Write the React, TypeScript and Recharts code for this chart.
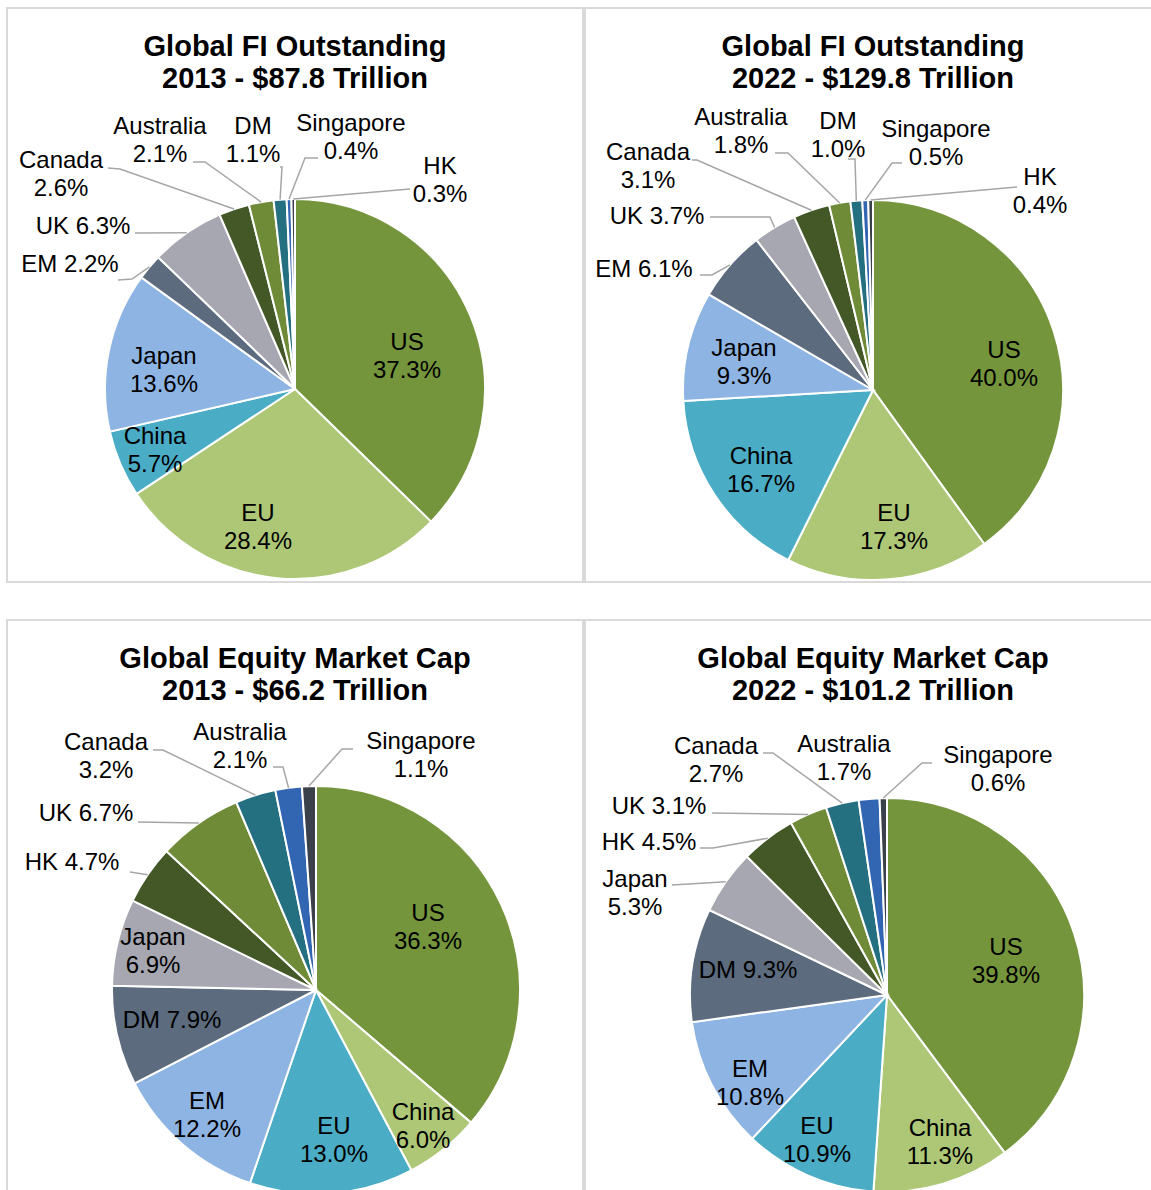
import { PieChart, Pie, Cell } from 'recharts';

// slice colours, clockwise from 12 o'clock (same order in all four pies)
const PALETTE = ['#75953D', '#ADC776', '#4BACC6', '#8EB4E3', '#5C6B7D', '#A6A7B0', '#435826', '#6F8B38', '#246F80', '#3366B2', '#3A414A'];

const fi2013Names = ['US', 'EU', 'China', 'Japan', 'EM', 'UK', 'Canada', 'Australia', 'DM', 'Singapore', 'HK'];
const fi2013Values = [37.3, 28.4, 5.7, 13.6, 2.2, 6.3, 2.6, 2.1, 1.1, 0.4, 0.3];

const fi2022Names = ['US', 'EU', 'China', 'Japan', 'EM', 'UK', 'Canada', 'Australia', 'DM', 'Singapore', 'HK'];
const fi2022Values = [40.0, 17.3, 16.7, 9.3, 6.1, 3.7, 3.1, 1.8, 1.0, 0.5, 0.4];

const eq2013Names = ['US', 'China', 'EU', 'EM', 'DM', 'Japan', 'HK', 'UK', 'Canada', 'Australia', 'Singapore'];
const eq2013Values = [36.3, 6.0, 13.0, 12.2, 7.9, 6.9, 4.7, 6.7, 3.2, 2.1, 1.1];

const eq2022Names = ['US', 'China', 'EU', 'EM', 'DM', 'Japan', 'HK', 'UK', 'Canada', 'Australia', 'Singapore'];
const eq2022Values = [39.8, 11.3, 10.9, 10.8, 9.3, 5.3, 4.5, 3.1, 2.7, 1.7, 0.6];

// label placement relative to the pie centre; lead = [startX, startY, elbowX, elbowY]
type Spot = { x: number; y: number; lines: 1 | 2; lead?: number[] };

const fi2013Spots: Spot[] = [
  { x: 112, y: -33, lines: 2 },
  { x: -37, y: 138, lines: 2 },
  { x: -140, y: 61, lines: 2 },
  { x: -131, y: -19, lines: 2 },
  { x: -225, y: -125, lines: 1, lead: [-177, -109, -163, -110] },
  { x: -212, y: -163, lines: 1, lead: [-160, -156, -160, -156] },
  { x: -234, y: -215, lines: 2, lead: [-187, -221, -175, -220] },
  { x: -135, y: -249, lines: 2, lead: [-102, -227, -90, -227] },
  { x: -42, y: -249, lines: 2, lead: [-15, -222, -13, -222] },
  { x: 56, y: -252, lines: 2, lead: [23, -231, 10, -231] },
  { x: 145, y: -209, lines: 2, lead: [115, -200, 115, -200] },
];

const fi2022Spots: Spot[] = [
  { x: 131, y: -26, lines: 2 },
  { x: 21, y: 137, lines: 2 },
  { x: -112, y: 80, lines: 2 },
  { x: -129, y: -28, lines: 2 },
  { x: -229, y: -121, lines: 1, lead: [-173, -115, -161, -115] },
  { x: -216, y: -174, lines: 1, lead: [-163, -173, -103, -173] },
  { x: -225, y: -224, lines: 2, lead: [-181, -230, -176, -230] },
  { x: -132, y: -259, lines: 2, lead: [-98, -237, -85, -237] },
  { x: -35, y: -255, lines: 2, lead: [-25, -231, -18, -231] },
  { x: 63, y: -247, lines: 2, lead: [29, -227, 19, -227] },
  { x: 167, y: -199, lines: 2, lead: [144, -203, 144, -203] },
];

const eq2013Spots: Spot[] = [
  { x: 112, y: -63, lines: 2 },
  { x: 107, y: 136, lines: 2 },
  { x: 18, y: 150, lines: 2 },
  { x: -109, y: 125, lines: 2 },
  { x: -144, y: 30, lines: 1 },
  { x: -163, y: -39, lines: 2 },
  { x: -244, y: -128, lines: 1, lead: [-186, -118, -186, -118] },
  { x: -230, y: -177, lines: 1, lead: [-178, -168, -178, -168] },
  { x: -210, y: -234, lines: 2, lead: [-163, -240, -153, -240] },
  { x: -76, y: -244, lines: 2, lead: [-43, -223, -33, -223] },
  { x: 105, y: -235, lines: 2, lead: [37, -241, 26, -241] },
];

const eq2022Spots: Spot[] = [
  { x: 119, y: -34, lines: 2 },
  { x: 53, y: 147, lines: 2 },
  { x: -70, y: 145, lines: 2 },
  { x: -137, y: 88, lines: 2 },
  { x: -139, y: -25, lines: 1 },
  { x: -252, y: -102, lines: 2, lead: [-215, -110, -215, -110] },
  { x: -238, y: -153, lines: 1, lead: [-187, -147, -174, -147] },
  { x: -228, y: -189, lines: 1, lead: [-175, -182, -175, -182] },
  { x: -171, y: -235, lines: 2, lead: [-124, -242, -114, -242] },
  { x: -43, y: -237, lines: 2 },
  { x: 111, y: -226, lines: 2, lead: [45, -232, 35, -232] },
];

const FONT = '"Liberation Sans", Arial, sans-serif';
const RAD = Math.PI / 180;

function makeLabel(names: string[], values: number[], spots: Spot[]) {
  return (props: any) => {
    const { cx, cy, midAngle, outerRadius, index } = props;
    const s = spots[index];
    if (!s) return null;
    const name = names[index];
    const pct = values[index].toFixed(1) + '%';
    const lx = cx + s.x;
    const ly = cy + s.y;
    let leader = null;
    if (s.lead) {
      const endX = cx + outerRadius * Math.cos(-midAngle * RAD);
      const endY = cy + outerRadius * Math.sin(-midAngle * RAD);
      const pts = `${cx + s.lead[0]},${cy + s.lead[1]} ${cx + s.lead[2]},${cy + s.lead[3]} ${endX},${endY}`;
      leader = <polyline points={pts} fill="none" stroke="#A6A6A6" strokeWidth={1.5} />;
    }
    return (
      <g key={`lbl-${index}`}>
        {leader}
        {s.lines === 2 ? (
          <text x={lx} y={ly} textAnchor="middle" fontSize={24} fontFamily={FONT} fill="#000">
            <tspan x={lx} y={ly - 15} dominantBaseline="central">{name}</tspan>
            <tspan x={lx} y={ly + 13} dominantBaseline="central">{pct}</tspan>
          </text>
        ) : (
          <text x={lx} y={ly - 1} textAnchor="middle" dominantBaseline="central" fontSize={24} fontFamily={FONT} fill="#000">
            {name} {pct}
          </text>
        )}
      </g>
    );
  };
}

type Panel = {
  title: string;
  subtitle: string;
  names: string[];
  values: number[];
  spots: Spot[];
  left: number;
  top: number;
  w: number;
  h: number;
  cx: number;
  cy: number;
  r: number;
  titleTop: number;
};

const panels: Panel[] = [
  { title: 'Global FI Outstanding', subtitle: '2013 - $87.8 Trillion', names: fi2013Names, values: fi2013Values, spots: fi2013Spots,
    left: 6, top: 7, w: 578, h: 576, cx: 295, cy: 389, r: 190, titleTop: 30 },
  { title: 'Global FI Outstanding', subtitle: '2022 - $129.8 Trillion', names: fi2022Names, values: fi2022Values, spots: fi2022Spots,
    left: 584, top: 7, w: 578, h: 576, cx: 873, cy: 390, r: 190, titleTop: 30 },
  { title: 'Global Equity Market Cap', subtitle: '2013 - $66.2 Trillion', names: eq2013Names, values: eq2013Values, spots: eq2013Spots,
    left: 6, top: 619, w: 578, h: 580, cx: 316, cy: 990, r: 204, titleTop: 642 },
  { title: 'Global Equity Market Cap', subtitle: '2022 - $101.2 Trillion', names: eq2022Names, values: eq2022Values, spots: eq2022Spots,
    left: 584, top: 619, w: 578, h: 580, cx: 887, cy: 995, r: 197, titleTop: 642 },
];

function PiePanel({ p }: { p: Panel }) {
  const data = p.names.map((n, i) => ({ name: n, value: p.values[i] }));
  return (
    <>
      <div
        style={{
          position: 'absolute', left: p.left, top: p.top, width: p.w, height: p.h,
          boxSizing: 'border-box', border: '2px solid #D9D9D9',
        }}
      />
      <div
        style={{
          position: 'absolute', left: p.left, top: p.titleTop, width: p.w, textAlign: 'center',
          fontFamily: FONT, fontWeight: 'bold', fontSize: 29, lineHeight: '32px', color: '#000',
        }}
      >
        <div>{p.title}</div>
        <div>{p.subtitle}</div>
      </div>
      <div style={{ position: 'absolute', left: p.left, top: p.top }}>
        <PieChart width={p.w} height={p.h} margin={{ top: 0, right: 0, bottom: 0, left: 0 }}>
          <Pie
            data={data}
            dataKey="value"
            nameKey="name"
            cx={p.cx - p.left}
            cy={p.cy - p.top}
            outerRadius={p.r}
            startAngle={90}
            endAngle={-270}
            stroke="#fff"
            strokeWidth={2}
            labelLine={false}
            label={makeLabel(p.names, p.values, p.spots)}
            isAnimationActive={false}
          >
            {data.map((d, i) => (
              <Cell key={d.name} fill={PALETTE[i]} />
            ))}
          </Pie>
        </PieChart>
      </div>
    </>
  );
}

export default function App() {
  return (
    <div style={{ position: 'absolute', left: 0, top: 0, width: 1151, height: 1190, overflow: 'hidden', background: '#fff' }}>
      {panels.map((p, i) => (
        <PiePanel key={i} p={p} />
      ))}
    </div>
  );
}
